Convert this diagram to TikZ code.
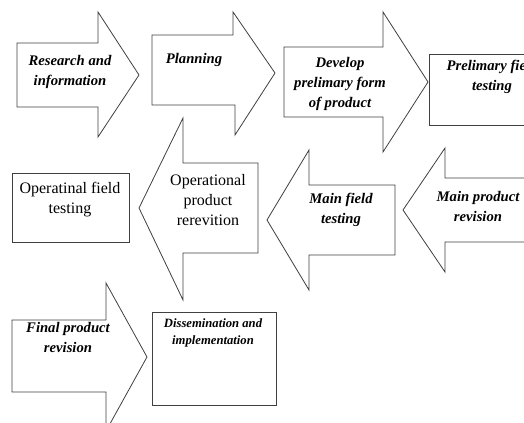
\documentclass[tikz,border=0pt]{standalone}
\usepackage{fontspec}
\setmainfont{Liberation Serif}
\begin{document}
\begin{tikzpicture}[x=0.75pt,y=-0.75pt,
  shapeline/.style={draw=black!75,line width=0.6pt,fill=white,line join=miter},
  itlabel/.style={align=center,font=\fontsize{11}{15}\selectfont\bfseries\itshape,inner sep=0pt},
  uplabel/.style={align=center,font=\fontsize{12}{15}\selectfont,inner sep=0pt},
  smlabel/.style={align=center,font=\fontsize{9.5}{12.5}\selectfont\bfseries\itshape,inner sep=0pt}]
\useasboundingbox (0,0) rectangle (524,423);
\clip (0,0) rectangle (524,423);
% row 1
\draw[shapeline] (17,43) -- (98,43) -- (98,12) -- (139,75) -- (98,137) -- (98,107) -- (17,107) -- cycle;
\draw[shapeline] (152,35) -- (233,35) -- (233,12) -- (275,73) -- (235,135) -- (235,105) -- (152,105) -- cycle;
\draw[shapeline] (284,47) -- (383,47) -- (383,12) -- (428,82) -- (383,152) -- (383,117) -- (284,117) -- cycle;
\draw[shapeline] (429,54) rectangle (560,125);
% row 2
\draw[shapeline] (12,173) rectangle (129,242);
\draw[shapeline] (139,208) -- (183,118) -- (183,163) -- (258,163) -- (258,253) -- (183,253) -- (183,300) -- cycle;
\draw[shapeline] (267,220) -- (309,150) -- (309,185) -- (395,185) -- (395,255) -- (309,255) -- (309,290) -- cycle;
\draw[shapeline] (403,210) -- (445,148) -- (445,178) -- (560,178) -- (560,242) -- (445,242) -- (445,272) -- cycle;
% row 3
\draw[shapeline] (12,320) -- (106,320) -- (106,283) -- (147,357) -- (106,431) -- (106,392) -- (12,392) -- cycle;
\draw[shapeline] (152,312) rectangle (276,405);
% labels
\node[itlabel] (research) at (70,72) {Research and\\information};
\node[itlabel] (planning) at (194,60) {Planning};
\node[itlabel] (develop) at (340,84) {Develop\\prelimary form\\of product};
\node[itlabel] (prelim) at (492,77) {Prelimary field\\testing};
\node[uplabel] (opfield) at (70,200) {Operatinal field\\testing};
\node[uplabel] (opprod) at (208,200) {Operational\\product\\rerevition};
\node[itlabel] (mainfield) at (341,210) {Main field\\testing};
\node[itlabel] (mainprod) at (478,206) {Main product\\revision};
\node[itlabel] (final) at (68,337) {Final product\\revision};
\node[smlabel] (dissem) at (213,333) {Dissemination and\\implementation};
\end{tikzpicture}
\end{document}
